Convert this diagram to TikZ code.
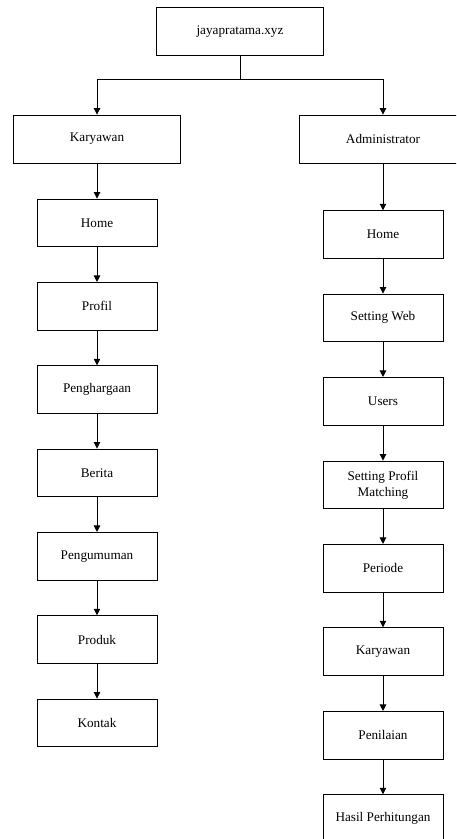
\documentclass[tikz,border=0pt]{standalone}
\usepackage{fontspec}
\setmainfont{Liberation Serif}
\usetikzlibrary{arrows.meta}
\begin{document}
\begin{tikzpicture}[x=1pt,y=-1pt,
  box/.style={draw=black,line width=0.8pt,minimum width=120pt,minimum height=47.7pt,inner sep=0pt,align=center,font=\fontsize{13.2}{16}\selectfont},
  wide/.style={box,minimum width=167pt,minimum height=48pt},
  conn/.style={draw=black,line width=0.8pt,-{Triangle[width=6.5pt,length=6.5pt]}},
  plain/.style={draw=black,line width=0.8pt}]
\useasboundingbox (0,0) rectangle (456,839);
\clip (0,0) rectangle (456,839);
\node[wide] (top) at (240,31.5) {jayapratama.xyz};
\node[wide] (kar) at (97,139) {Karyawan};
\node[wide] (adm) at (383,139) {Administrator};
\coordinate (j) at (240,79);
\draw[plain] (top.south) -- (j);
\draw[conn] (j) -| (kar.north);
\draw[conn] (j) -| (adm.north);
% left column
\node[box] (l1) at (97,222.8) {Home};
\node[box] (l2) at (97,306.2) {Profil};
\node[box] (l3) at (97,389.5) {Penghargaan};
\node[box] (l4) at (97,472.8) {Berita};
\node[box] (l5) at (97,556.2) {Pengumuman};
\node[box] (l6) at (97,639.5) {Produk};
\node[box] (l7) at (97,722.8) {Kontak};
\draw[conn] (kar) -- (l1);
\draw[conn] (l1) -- (l2);
\draw[conn] (l2) -- (l3);
\draw[conn] (l3) -- (l4);
\draw[conn] (l4) -- (l5);
\draw[conn] (l5) -- (l6);
\draw[conn] (l6) -- (l7);
% right column
\node[box] (r1) at (383,234.5) {Home};
\node[box] (r2) at (383,317.8) {Setting Web};
\node[box] (r3) at (383,401.2) {Users};
\node[box] (r4) at (383,484.8) {Setting Profil\\Matching};
\node[box] (r5) at (383,568.2) {Periode};
\node[box] (r6) at (383,651.5) {Karyawan};
\node[box] (r7) at (383,735.2) {Penilaian};
\node[box] (r8) at (383,818.5) {Hasil Perhitungan};
\draw[conn] (adm.south) -- (r1.north);
\draw[conn] (r1) -- (r2);
\draw[conn] (r2) -- (r3);
\draw[conn] (r3) -- (r4);
\draw[conn] (r4) -- (r5);
\draw[conn] (r5) -- (r6);
\draw[conn] (r6) -- (r7);
\draw[conn] (r7) -- (r8);
\end{tikzpicture}
\end{document}
